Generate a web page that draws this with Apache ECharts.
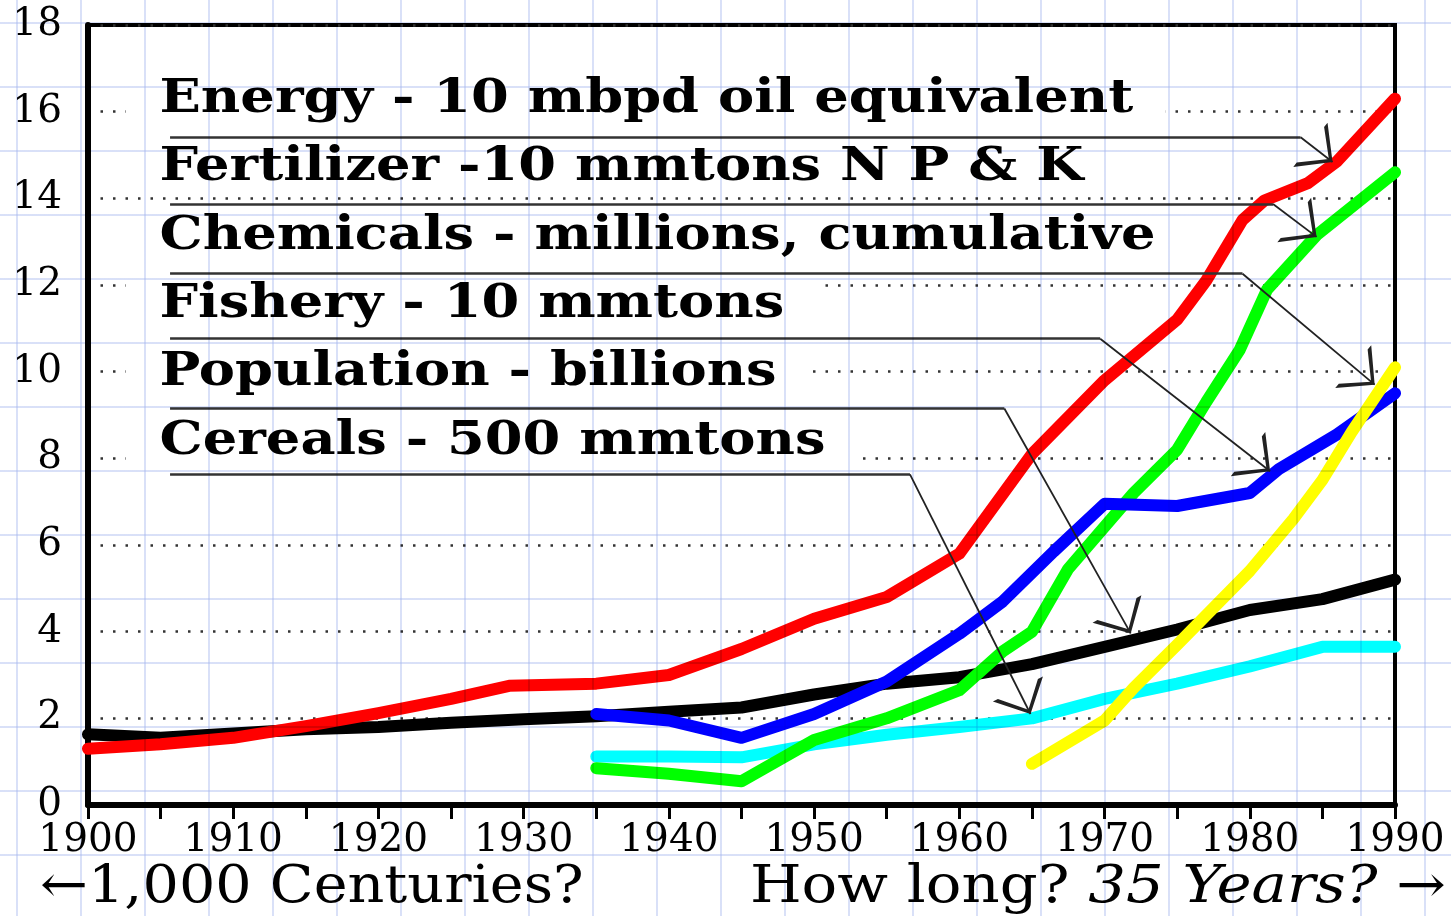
<!DOCTYPE html>
<html><head><meta charset="utf-8">
<script src="https://cdn.jsdelivr.net/npm/echarts@6/dist/echarts.min.js"></script>
<style>
html,body{margin:0;padding:0;background:#fff;}
#wrap{position:relative;width:1451px;height:916px;overflow:hidden;}
#chart{position:absolute;left:0;top:0;width:1451px;height:916px;}
#paper{position:absolute;left:0;top:0;width:1451px;height:916px;pointer-events:none;
 background-image:linear-gradient(to right, rgba(165,182,238,0.42) 2px, transparent 2px),linear-gradient(to bottom, rgba(165,182,238,0.42) 2px, transparent 2px);
 background-size:64px 64px;background-position:16px 22px;mix-blend-mode:multiply;}
</style></head>
<body><div id="wrap"><div id="chart"></div><div id="paper"></div></div>
<script>
// ---- data (year, value) ----
const energy = [[1900,1.3],[1905,1.4],[1910,1.55],[1915,1.82],[1920,2.12],[1925,2.45],[1929,2.75],[1935,2.8],[1940,3.0],[1945,3.6],[1950,4.3],[1955,4.8],[1960,5.8],[1965,8.1],[1970,9.8],[1975,11.2],[1977,12.1],[1979.5,13.5],[1981,13.95],[1984,14.35],[1986,14.85],[1990,16.3]];
const population = [[1900,1.63],[1905,1.55],[1910,1.65],[1915,1.75],[1920,1.8],[1925,1.9],[1930,1.98],[1935,2.05],[1940,2.15],[1945,2.25],[1950,2.55],[1955,2.8],[1960,2.95],[1965,3.25],[1970,3.65],[1975,4.05],[1980,4.5],[1985,4.75],[1990,5.2]];
const fishery = [[1935,2.1],[1940,1.95],[1945,1.55],[1950,2.1],[1955,2.85],[1960,3.95],[1963,4.7],[1966.5,5.85],[1970,6.95],[1975,6.9],[1980,7.2],[1982,7.75],[1986,8.55],[1990,9.5]];
const fertilizer = [[1935,0.85],[1940,0.72],[1945,0.55],[1950,1.5],[1955,2.0],[1960,2.65],[1963,3.55],[1965,4.0],[1967.5,5.45],[1972,7.2],[1975,8.2],[1977,9.3],[1979.3,10.5],[1981.2,11.9],[1984.6,13.15],[1990,14.6]];
const cereals = [[1935,1.12],[1940,1.12],[1945,1.1],[1950,1.4],[1955,1.62],[1960,1.8],[1965,2.0],[1970,2.45],[1975,2.8],[1980,3.2],[1985,3.65],[1990,3.65]];
const chemicals = [[1965,0.95],[1970,1.95],[1972,2.7],[1975,3.7],[1980,5.4],[1983,6.6],[1985,7.5],[1987,8.6],[1990,10.1]];

// ---- legend annotations ----
const labelTexts = ['Energy - 10 mbpd oil equivalent','Fertilizer -10 mmtons N P & K','Chemicals - millions, cumulative','Fishery - 10 mmtons','Population - billions','Cereals - 500 mmtons'];
const underlineStart = 1905.65;
const underlineY = [15.41, 13.87, 12.26, 10.76, 9.15, 7.63];
const bendX = [1983.5, 1981.6, 1979.5, 1969.7, 1963.1, 1956.6];
const tipX = [1985.7, 1984.6, 1988.6, 1981.4, 1971.8, 1964.9];
const tipY = [14.84, 13.11, 9.7, 7.7, 3.96, 2.1];

const xTicks = {min:1900, max:1990, step:10};
const yTicks = {min:0, max:18, step:2};

const serif = "'DejaVu Serif', 'Liberation Serif', serif";
const chart = echarts.init(document.getElementById('chart'));

const seriesDefs = [
  ['Population', population, '#000000'],
  ['Cereals', cereals, '#00ffff'],
  ['Fertilizer', fertilizer, '#00ff00'],
  ['Fishery', fishery, '#0000ff'],
  ['Energy', energy, '#ff0000'],
  ['Chemicals', chemicals, '#ffff00']
];

const arrowPath = 'path://M0,0 L0.05,0 L0.05,0.05 Z M10,30 L20,60 L18,60 L10,35 L2,60 L0,60 Z';

const labelCenters = [100, 168, 237, 305, 373, 442];
const labelGraphics = labelTexts.map((t, i) => ({
  type: 'text', x: 126, y: labelCenters[i], z: 1, scaleX: 1.155, scaleY: 1,
  style: { text: t, font: `bold 47px ${serif}`, fill: '#000', backgroundColor: '#fff',
           padding: [2, 28, 2, 29], align: 'left', verticalAlign: 'middle' }
}));

const option = {
  backgroundColor: 'transparent',
  animation: false,
  grid: { left: 88, right: 56, top: 25, bottom: 111, show: true, borderColor: '#000', borderWidth: 4, backgroundColor: 'transparent' },
  xAxis: {
    type: 'value', min: xTicks.min, max: xTicks.max, interval: xTicks.step,
    axisLine: { show: true, lineStyle: { color: '#000', width: 6 } },
    axisTick: { show: true, length: 14, lineStyle: { color: '#000', width: 3 } },
    minorTick: { show: true, splitNumber: 2, length: 14, lineStyle: { color: '#000', width: 3 } },
    splitLine: { show: false },
    axisLabel: { margin: 16, fontFamily: serif, fontSize: 39, color: '#000', formatter: v => String(v) }
  },
  yAxis: {
    type: 'value', min: yTicks.min, max: yTicks.max, interval: yTicks.step,
    axisLine: { show: true, lineStyle: { color: '#000', width: 6 } },
    axisTick: { show: false },
    splitLine: { show: true, lineStyle: { color: '#333', width: 2.5, type: [2.5, 10] } },
    axisLabel: { margin: 26, fontFamily: serif, fontSize: 39, color: '#000' }
  },
  graphic: labelGraphics.concat([
    { type: 'text', x: 40, y: 888, z: 1, scaleX: 1.1,
      style: { text: '←1,000 Centuries?', font: `52px ${serif}`, fill: '#000', align: 'left', verticalAlign: 'middle' } },
    { type: 'text', x: 1446, y: 888, z: 1, scaleX: 1.14,
      style: { text: '{n|How long? }{i|35 Years?}{n| →}', align: 'right', verticalAlign: 'middle',
        rich: { n: { fontFamily: serif, fontSize: 52, color: '#000' },
                i: { fontFamily: serif, fontSize: 52, fontStyle: 'italic', color: '#000' } } } }
  ]),
  series: seriesDefs.map(([name, data, color]) => ({
    name, type: 'line', data, showSymbol: false, symbol: 'none', z: 3, silent: true,
    lineStyle: { color, width: 12, cap: 'round', join: 'round' }
  })).concat([
    { type: 'lines', coordinateSystem: 'cartesian2d', z: 5, silent: true,
      symbol: ['none', 'none'],
      lineStyle: { color: '#333', width: 2.5, opacity: 1, curveness: 0 },
      data: underlineY.map((y, i) => ({ coords: [[underlineStart, y], [bendX[i], y]] })) },
    { type: 'lines', coordinateSystem: 'cartesian2d', z: 5, silent: true,
      symbol: ['none', arrowPath], symbolSize: [20, 56],
      lineStyle: { color: '#222', width: 1.8, opacity: 1, curveness: 0 },
      data: underlineY.map((y, i) => ({ coords: [[bendX[i], y], [tipX[i], tipY[i]]] })) }
  ])
};
chart.setOption(option);
</script>
</body></html>
